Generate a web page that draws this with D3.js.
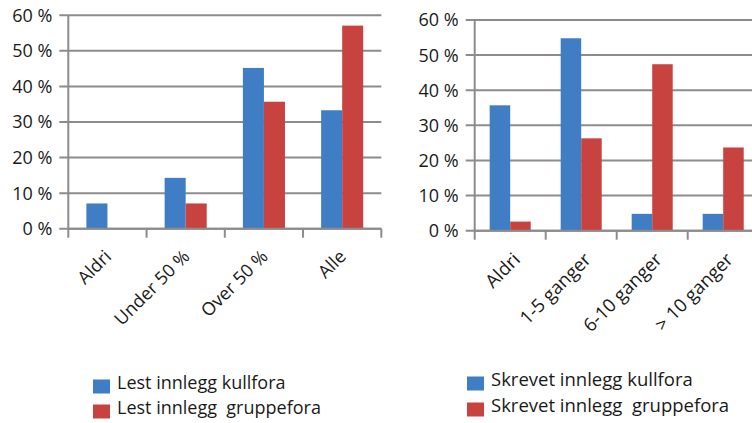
<!DOCTYPE html>
<html>
<head>
<meta charset="utf-8">
<script src="https://cdn.jsdelivr.net/npm/d3@7/dist/d3.min.js"></script>
<style>
  html, body { margin: 0; padding: 0; background: #ffffff; }
  svg { display: block; }
  text { font-family: "Open Sans", Lato, sans-serif; fill: #1a1a1a; }
</style>
</head>
<body>
<svg id="chart" width="752" height="423"></svg>
<script>
// Share of students (%) who read posts in class forums vs. group forums
const readCategories = ["Aldri", "Under 50 %", "Over 50 %", "Alle"];
const readClass = [7.1, 14.3, 45.2, 33.3];
const readGroup = [0, 7.1, 35.7, 57.1];
const readSeries = ["Lest innlegg kullfora", "Lest innlegg  gruppefora"];

// Share of students (%) who wrote posts in class forums vs. group forums
const writeCategories = ["Aldri", "1-5 ganger", "6-10 ganger", "> 10 ganger"];
const writeClass = [35.7, 54.8, 4.8, 4.8];
const writeGroup = [2.6, 26.3, 47.4, 23.7];
const writeSeries = ["Skrevet innlegg kullfora", "Skrevet innlegg  gruppefora"];

const yTicks = [0, 10, 20, 30, 40, 50, 60];
const tickLabel = v => v + " %";

const colors = ["#3f7dc4", "#c8423f"];
const gridColor = "#8c8c8c";

const svg = d3.select("#chart");

function drawPanel(opt) {
  const g = svg.append("g");
  const x = d3.scaleBand().domain(opt.categories).range([opt.left, opt.right]);
  const xs = d3.scaleBand().domain([0, 1]).range([0, x.bandwidth()])
    .paddingInner(0).paddingOuter(opt.barPad);
  const y = d3.scaleLinear().domain([0, 60]).range([opt.bottom, opt.top]);

  // horizontal gridlines with outward ticks
  g.selectAll("line.grid").data(yTicks).join("line")
    .attr("x1", opt.left - 9).attr("x2", opt.right)
    .attr("y1", d => y(d)).attr("y2", d => y(d))
    .attr("stroke", gridColor).attr("stroke-width", 2);

  // value axis line
  g.append("line")
    .attr("x1", opt.left).attr("x2", opt.left)
    .attr("y1", y(60)).attr("y2", y(0) + 9)
    .attr("stroke", gridColor).attr("stroke-width", 2);

  // category separators below the baseline
  const seps = opt.categories.map(c => x(c) + x.bandwidth());
  g.selectAll("line.sep").data(seps).join("line")
    .attr("x1", d => d).attr("x2", d => d)
    .attr("y1", y(0)).attr("y2", y(0) + 9)
    .attr("stroke", gridColor).attr("stroke-width", 2);

  // y tick labels
  g.selectAll("text.yl").data(yTicks).join("text")
    .attr("x", opt.left - 16).attr("y", d => y(d))
    .attr("dy", "0.36em")
    .attr("text-anchor", "end")
    .attr("font-size", opt.tickSize)
    .text(tickLabel);

  // bars
  const rows = opt.categories.map((c, i) => ({ c, v: [opt.a[i], opt.b[i]] }));
  const grp = g.selectAll("g.cat").data(rows).join("g")
    .attr("transform", d => `translate(${x(d.c)},0)`);
  grp.selectAll("rect").data(d => d.v.map((v, k) => ({ v, k }))).join("rect")
    .attr("x", d => xs(d.k))
    .attr("width", xs.bandwidth())
    .attr("y", d => y(d.v))
    .attr("height", d => y(0) - y(d.v))
    .attr("fill", d => colors[d.k]);

  // redraw baseline over bars
  g.append("line")
    .attr("x1", opt.left).attr("x2", opt.right)
    .attr("y1", y(0)).attr("y2", y(0))
    .attr("stroke", gridColor).attr("stroke-width", 2);

  // rotated category labels
  g.selectAll("text.xl").data(opt.categories).join("text")
    .attr("text-anchor", "end")
    .attr("font-size", opt.labelSize)
    .attr("transform", d =>
      `translate(${x(d) + x.bandwidth() / 2 + opt.labelDx},${y(0) + opt.labelDy}) rotate(-45)`)
    .text(d => d);

  // legend
  const lg = g.append("g");
  opt.series.forEach((s, i) => {
    lg.append("rect")
      .attr("x", opt.legX).attr("y", opt.legY + i * opt.legGap)
      .attr("width", 17).attr("height", 14)
      .attr("fill", colors[i]);
    lg.append("text")
      .attr("x", opt.legX + 24).attr("y", opt.legY + i * opt.legGap + 9)
      .attr("font-size", opt.legSize)
      .style("white-space", "pre")
      .text(s);
  });
}

drawPanel({
  categories: readCategories, a: readClass, b: readGroup, series: readSeries,
  left: 68.3, right: 381.3, top: 15.3, bottom: 228.7,
  barPad: 0.86, tickSize: 18, labelSize: 18, labelDx: 5, labelDy: 29,
  legX: 93, legY: 379.5, legGap: 25, legSize: 18
});

drawPanel({
  categories: writeCategories, a: writeClass, b: writeGroup, series: writeSeries,
  left: 474.7, right: 758.7, top: 20, bottom: 230.7,
  barPad: 0.73, tickSize: 18, labelSize: 18.5, labelDx: 11, labelDy: 30,
  legX: 467, legY: 376.5, legGap: 26, legSize: 18.5
});
</script>
</body>
</html>
